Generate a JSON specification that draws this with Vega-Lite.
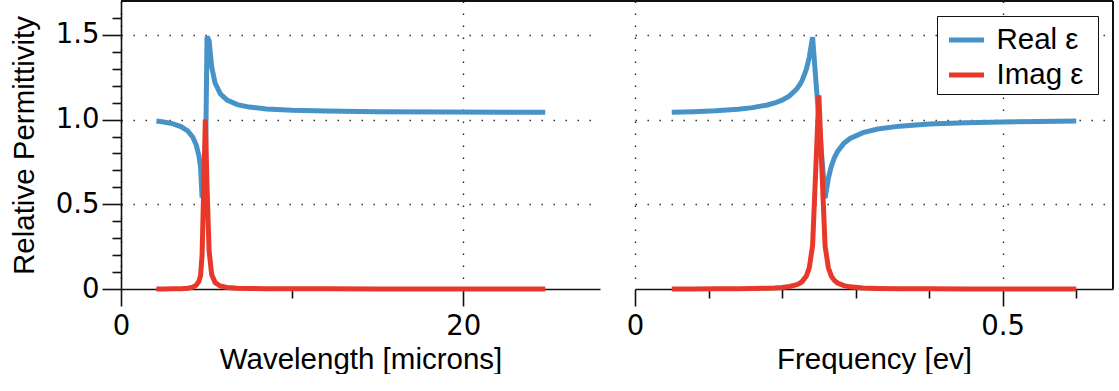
{
  "$schema": "https://vega.github.io/schema/vega-lite/v6.json",
  "padding": {"left": 9, "top": 0, "right": 3, "bottom": 0},
  "config": {
    "font": "Liberation Sans",
    "view": {"stroke": null},
    "axis": {
      "labelFont": "DejaVu Sans", "labelFontSize": 27.5, "titleFontSize": 29.5, "titleFontWeight": "normal",
      "labelColor": "#000", "titleColor": "#000",
      "domainColor": "#111", "tickColor": "#111", "domainWidth": 1.6, "tickWidth": 1.6,
      "gridDash": [1.4, 10.6], "gridColor": "#222", "gridWidth": 1.4,
      "labelFlush": false, "labelOverlap": false
    }
  },
  "datasets": {
    "wl": [
      {"lam": 2.07, "re": 0.9913, "im": 0.0002},
      {"lam": 2.5, "re": 0.9858, "im": 0.0003},
      {"lam": 3.0, "re": 0.976, "im": 0.0008},
      {"lam": 3.5, "re": 0.9587, "im": 0.0021},
      {"lam": 3.9, "re": 0.933, "im": 0.005},
      {"lam": 4.2, "re": 0.8958, "im": 0.0113},
      {"lam": 4.4, "re": 0.8498, "im": 0.0228},
      {"lam": 4.55, "re": 0.7885, "im": 0.0446},
      {"lam": 4.65, "re": 0.7203, "im": 0.0788},
      {"lam": 4.74, "re": 0.54, "im": 0.2},
      {"lam": 4.93, "re": 0.66, "im": 1.0},
      {"lam": 5.03, "re": 1.49, "im": 0.6},
      {"lam": 5.15, "re": 1.4655, "im": 0.2254},
      {"lam": 5.3, "re": 1.3115, "im": 0.0854},
      {"lam": 5.5, "re": 1.2161, "im": 0.038},
      {"lam": 5.8, "re": 1.1528, "im": 0.0177},
      {"lam": 6.2, "re": 1.1148, "im": 0.0093},
      {"lam": 6.8, "re": 1.0886, "im": 0.005},
      {"lam": 7.5, "re": 1.0738, "im": 0.0032},
      {"lam": 8.5, "re": 1.0631, "im": 0.002},
      {"lam": 10, "re": 1.0552, "im": 0.0013},
      {"lam": 12, "re": 1.0502, "im": 0.0009},
      {"lam": 15, "re": 1.0467, "im": 0.0006},
      {"lam": 19, "re": 1.0446, "im": 0.0005},
      {"lam": 24.8, "re": 1.0433, "im": 0.0003}
    ],
    "fr": [
      {"f": 0.05, "re": 1.0433, "im": 0.0003},
      {"f": 0.08, "re": 1.0463, "im": 0.0006},
      {"f": 0.11, "re": 1.0516, "im": 0.001},
      {"f": 0.14, "re": 1.0606, "im": 0.0018},
      {"f": 0.16, "re": 1.0705, "im": 0.0028},
      {"f": 0.18, "re": 1.0864, "im": 0.0047},
      {"f": 0.19, "re": 1.098, "im": 0.0064},
      {"f": 0.2, "re": 1.1148, "im": 0.0093},
      {"f": 0.21, "re": 1.1398, "im": 0.0145},
      {"f": 0.22, "re": 1.1808, "im": 0.0257},
      {"f": 0.2245, "re": 1.2089, "im": 0.0353},
      {"f": 0.2275, "re": 1.2333, "im": 0.045},
      {"f": 0.233, "re": 1.2968, "im": 0.0767},
      {"f": 0.237, "re": 1.368, "im": 0.1254},
      {"f": 0.2415, "re": 1.487, "im": 0.2564},
      {"f": 0.25, "re": 1.0, "im": 1.143},
      {"f": 0.2585, "re": 0.536, "im": 0.2526},
      {"f": 0.263, "re": 0.6546, "im": 0.124},
      {"f": 0.267, "re": 0.7252, "im": 0.076},
      {"f": 0.271, "re": 0.7738, "im": 0.051},
      {"f": 0.2755, "re": 0.8125, "im": 0.0351},
      {"f": 0.284, "re": 0.8596, "im": 0.02},
      {"f": 0.2925, "re": 0.8887, "im": 0.0128},
      {"f": 0.31, "re": 0.9232, "im": 0.0065},
      {"f": 0.33, "re": 0.944, "im": 0.0036},
      {"f": 0.36, "re": 0.9613, "im": 0.0019},
      {"f": 0.4, "re": 0.9733, "im": 0.001},
      {"f": 0.45, "re": 0.9814, "im": 0.0005},
      {"f": 0.5, "re": 0.9861, "im": 0.0003},
      {"f": 0.55, "re": 0.9892, "im": 0.0002},
      {"f": 0.6, "re": 0.9913, "im": 0.0002}
    ]
  },
  "hconcat": [
    {
      "width": 479, "height": 288,
      "data": {"name": "wl"},
      "encoding": {
        "x": {"field": "lam", "type": "quantitative",
          "scale": {"domain": [0, 28], "nice": false, "zero": false},
          "axis": {
            "title": "Wavelength [microns]", "values": [0, 10, 20],
            "tickSize": {"condition": {"test": "datum.value == 10", "value": 9}, "value": 17},
            "labelExpr": "datum.value == 10 ? '' : datum.label",
            "gridOpacity": {"condition": {"test": "datum.value == 10", "value": 0}, "value": 1},
            "labelPadding": 6, "titlePadding": 6
          }}
      },
      "layer": [
        {
          "mark": {"type": "line", "strokeWidth": 5},
          "encoding": {
            "y": {"field": "re", "type": "quantitative",
              "scale": {"domain": [0, 1.7], "nice": false, "zero": false},
              "axis": {
                "title": "Relative Permittivity",
                "values": [0, 0.1, 0.2, 0.3, 0.4, 0.5, 0.6, 0.7, 0.8, 0.9, 1, 1.1, 1.2, 1.3, 1.4, 1.5, 1.6],
                "tickCount": 17,
                "tickSize": {"condition": {"test": "datum.value == 0 || datum.value == 0.5 || datum.value == 1 || datum.value == 1.5", "value": 19}, "value": 9},
                "labelExpr": "datum.value == 0 ? '0' : (datum.value == 0.5 || datum.value == 1 || datum.value == 1.5) ? format(datum.value, '.1f') : ''",
                "gridOpacity": {"condition": {"test": "datum.value == 0.5 || datum.value == 1 || datum.value == 1.5", "value": 1}, "value": 0},
                "labelPadding": 3, "titlePadding": 16
              }},
            "color": {"datum": "Real ε",
              "scale": {"domain": ["Real ε", "Imag ε"], "range": ["#4793C7", "#E8382A"]},
              "legend": null}
          }
        },
        {
          "mark": {"type": "line", "strokeWidth": 5},
          "encoding": {
            "y": {"field": "im", "type": "quantitative"},
            "color": {"datum": "Imag ε"}
          }
        },
        {
          "mark": {"type": "rule", "color": "#111", "strokeWidth": 1.6},
          "encoding": {"x": null, "y": {"datum": 1.7, "type": "quantitative"}}
        }
      ]
    },
    {
      "width": 478, "height": 288,
      "data": {"name": "fr"},
      "encoding": {
        "x": {"field": "f", "type": "quantitative",
          "scale": {"domain": [0, 0.65], "nice": false, "zero": false},
          "axis": {
            "title": "Frequency [ev]", "values": [0, 0.1, 0.2, 0.3, 0.4, 0.5, 0.6],
            "tickSize": {"condition": {"test": "datum.value == 0 || datum.value == 0.5", "value": 17}, "value": 9},
            "labelExpr": "datum.value == 0 ? '0' : datum.value == 0.5 ? '0.5' : ''",
            "gridOpacity": {"condition": {"test": "datum.value == 0 || datum.value == 0.5", "value": 1}, "value": 0},
            "labelPadding": 6, "titlePadding": 6
          }}
      },
      "layer": [
        {
          "mark": {"type": "line", "strokeWidth": 5},
          "encoding": {
            "y": {"field": "re", "type": "quantitative",
              "scale": {"domain": [0, 1.7], "nice": false, "zero": false},
              "axis": {
                "title": null, "values": [0.5, 1, 1.5], "tickCount": 3, "domain": false, "ticks": false, "labels": false,
                "grid": true, "minExtent": 0, "maxExtent": 0
              }},
            "color": {"datum": "Real ε",
              "scale": {"domain": ["Real ε", "Imag ε"], "range": ["#4793C7", "#E8382A"]},
              "legend": {
                "orient": "top-right", "offset": 15,
                "title": "\u00a0", "titleOrient": "right", "titleFontSize": 1, "titlePadding": 10.5,
                "symbolType": "stroke", "symbolStrokeWidth": 5, "symbolSize": 1225,
                "labelFontSize": 29.5, "labelColor": "#000", "labelLimit": 300,
                "strokeColor": "#111", "fillColor": "#fff", "padding": 4,
                "rowPadding": 0, "symbolOffset": 5.5, "labelOffset": 10
              }}
          }
        },
        {
          "mark": {"type": "line", "strokeWidth": 5},
          "encoding": {
            "y": {"field": "im", "type": "quantitative"},
            "color": {"datum": "Imag ε"}
          }
        },
        {
          "mark": {"type": "rule", "color": "#111", "strokeWidth": 1.6},
          "encoding": {
            "x": {"datum": -0.0475, "type": "quantitative"},
            "x2": {"datum": 0.65},
            "y": {"datum": 1.7, "type": "quantitative"}
          }
        },
        {
          "mark": {"type": "rule", "color": "#111", "strokeWidth": 1.6},
          "encoding": {"x": {"datum": 0.65, "type": "quantitative"}}
        }
      ]
    }
  ],
  "spacing": 35,
  "bounds": "flush",
  "resolve": {"scale": {"color": "independent"}, "legend": {"color": "independent"}}
}
